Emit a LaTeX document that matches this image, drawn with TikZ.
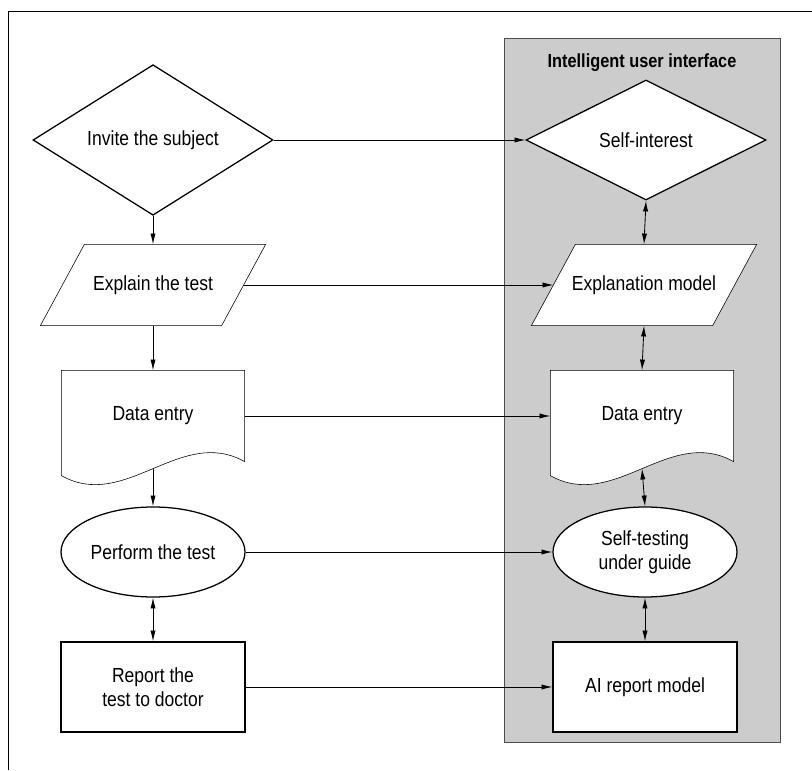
\documentclass[tikz,border=0pt]{standalone}
\usepackage{fontspec}
\setmainfont{Liberation Sans}[FakeStretch=0.86]
\usepackage{tikz}
\usetikzlibrary{positioning,shapes.geometric,arrows.meta,backgrounds}

\begin{document}
\begin{tikzpicture}
  [font=\fontsize{14.5}{17}\selectfont, line width=0.9pt,
   every node/.style={draw, fill=white, align=center, inner sep=0pt},
   diabox/.style={diamond, minimum width=6cm, minimum height=3cm},
   parabox/.style={draw=none, fill=none, minimum width=4.5cm, minimum height=2cm},
   docbox/.style={draw=none, fill=none, minimum width=4.55cm, minimum height=2.25cm},
   ellbox/.style={ellipse, minimum width=4.6cm, minimum height=2.25cm},
   rectbox/.style={rectangle, minimum width=4.6cm, minimum height=2.25cm},
   toarr/.style={-{Latex[length=2.7mm,width=1.3mm]}, line width=0.6pt},
   botharr/.style={{Latex[length=2.7mm,width=1.3mm]}-{Latex[length=2.7mm,width=1.3mm]}, line width=0.6pt}]
  \useasboundingbox (0,0) rectangle (20.3,19.25);

  % left column
  \node[diabox] (l1) at (3.825,15.75) {Invite the subject};
  \node[parabox] (l2) at (3.825,12.125) {Explain the test};
  \node[docbox] (l3) at (3.825,8.85) {Data entry};
  \node[ellbox] (l4) at (3.825,5.45) {Perform the test};
  \node[rectbox] (l5) at (3.825,2.075) {Report the\\test to doctor};

  % right column
  \node[draw=none, fill=none, font=\bfseries\fontsize{13.5}{16}\selectfont] (title) at (16.05,17.675) {Intelligent user interface};
  \node[diabox] (r1) at (16.15,15.75) {Self-interest};
  \node[parabox] (r2) at (16.1,12.125) {Explanation model};
  \node[docbox] (r3) at (16.05,8.85) {Data entry};
  \node[ellbox] (r4) at (16.125,5.45) {Self-testing\\under guide};
  \node[rectbox] (r5) at (16.125,2.075) {AI report model};

  \coordinate (l3b) at ([yshift=-1.75mm]l3.south);
  \coordinate (r3b) at ([yshift=-1.75mm]r3.south);

  \begin{scope}[on background layer]
    \draw[line width=0.6pt] (0.2,0) -- (0.2,18.975) -- (20.3,18.975);
    \draw[fill=black!20, draw=black!70, line width=0.5pt] (12.6,0.7) rectangle (19.5,18.3);
    % parallelograms
    \foreach \p in {l2, r2}
      \draw[fill=white] ([xshift=-5.5mm]\p.south west) -- ([xshift=-5.5mm]\p.south east)
        -- ([xshift=5.5mm]\p.north east) -- ([xshift=5.5mm]\p.north west) -- cycle;
    % documents
    \foreach \d in {l3, r3}
      \draw[fill=white] (\d.north west) -- (\d.north east) -- (\d.south east)
        .. controls +(-1.6,0.9) and +(1.6,-0.9) .. ([yshift=-3.5mm]\d.south west) -- cycle;
  \end{scope}

  \draw[toarr] (l1.south) -- (l2.north);
  \draw[toarr] (l2.south) -- (l3.north);
  \draw[toarr] (l3b) -- (l4.north);
  \draw[botharr] (l4.south) -- (l5.north);

  \draw[botharr] (r1.south) -- (r2.north);
  \draw[botharr] (r2.south) -- (r3.north);
  \draw[botharr] (r3b) -- (r4.north);
  \draw[botharr] (r4.south) -- (r5.north);

  \foreach \from/\to in {l1/r1, l2/r2, l3/r3, l4/r4, l5/r5}
    \draw[toarr] (\from.east) -- (\to.west);
\end{tikzpicture}
\end{document}
